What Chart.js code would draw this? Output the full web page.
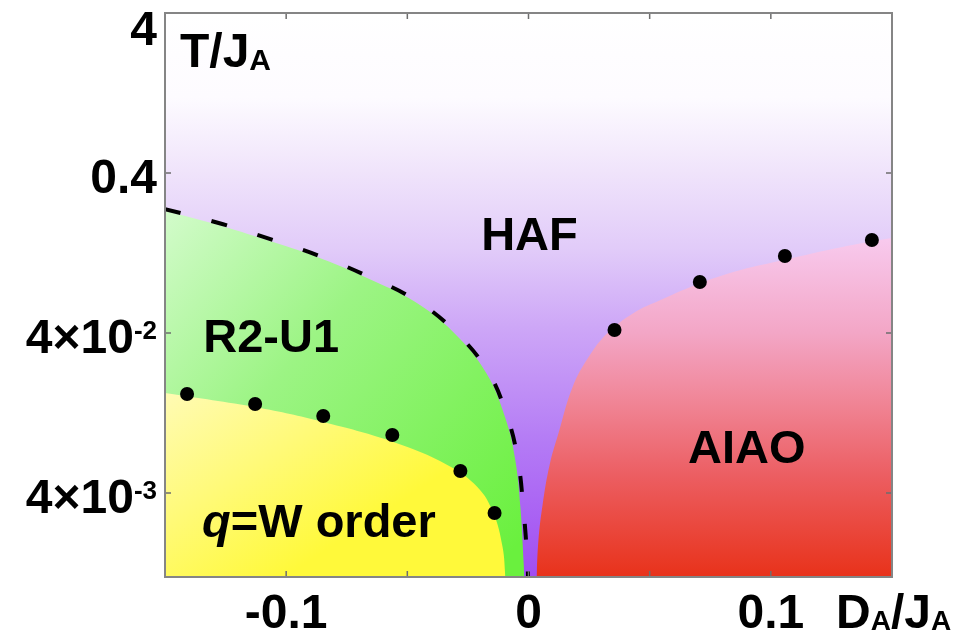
<!doctype html>
<html lang="en">
<head>
<meta charset="utf-8">
<title>Phase diagram T/JA vs DA/JA</title>
<style>
  * { margin: 0; padding: 0; }
  body { background: #fff; }
  #box { width: 961px; height: 637px; }
</style>
</head>
<body>
<div id="box"><canvas id="phase" width="961" height="637"></canvas></div>
<script src="https://cdn.jsdelivr.net/npm/chart.js/dist/chart.umd.min.js"></script>
<script>
// axes
const xMin = -0.15, xMax = 0.15;
const yMin = 1.194e-3, yMax = 4;
const xTickMarks = [-0.1, -0.05, 0, 0.05, 0.1];
const xTickValues = [-0.1, 0, 0.1];
const xTickLabels = ['-0.1', '0', '0.1'];
const yTickValues = [4e-3, 4e-2, 0.4, 4];
const yTickBase = ['4×10', '4×10', '0.4', '4'];
const yTickExp = ['-3', '-2', '', ''];

// dashed crossover HAF / R2-U1
const crossX = [-0.15, -0.1264, -0.1054, -0.0851, -0.0657, -0.0467, -0.0310, -0.0169, -0.0087, -0.0045, -0.0021, -0.0004, -0.0002];
const crossT = [0.238, 0.192, 0.1525, 0.1194, 0.0896, 0.0643, 0.0418, 0.0232, 0.0119, 0.0066, 0.0032, 0.00146, 0.001194];

// R2-U1 region edge
const greenX = [-0.15, -0.1264, -0.1054, -0.0851, -0.0657, -0.0467, -0.0310, -0.0175, -0.0095, -0.0055, -0.0033, -0.0020, -0.0018];
const greenT = [0.232, 0.186, 0.148, 0.116, 0.087, 0.0625, 0.0405, 0.0226, 0.0117, 0.0065, 0.0032, 0.00146, 0.001194];

// q=W order region edge
const yellowX = [-0.15, -0.1107, -0.0831, -0.0558, -0.0335, -0.0211, -0.0145, -0.0107, -0.0095];
const yellowT = [0.01687, 0.01359, 0.01095, 0.00833, 0.00599, 0.00436, 0.00300, 0.00184, 0.001194];

// AIAO region edge
const aiaoX = [0.0033, 0.0041, 0.0058, 0.0087, 0.0124, 0.0182, 0.0248, 0.0326, 0.0434, 0.0545, 0.0711, 0.0876, 0.1054, 0.1236, 0.1401, 0.15];
const aiaoT = [0.001194, 0.00203, 0.00337, 0.00599, 0.00949, 0.0184, 0.0283, 0.0400, 0.0534, 0.0643, 0.0821, 0.0990, 0.1143, 0.1320, 0.1482, 0.157];

// transition points
const qwDotX = [-0.1409, -0.1128, -0.0847, -0.0562, -0.0281, -0.0140];
const qwDotT = [0.01663, 0.01440, 0.01212, 0.00922, 0.00549, 0.00300];
const aiaoDotX = [0.0355, 0.0707, 0.1058, 0.1417];
const aiaoDotT = [0.0418, 0.0833, 0.1212, 0.1525];

const pts = (xs, ts) => xs.map((x, i) => ({ x: x, y: ts[i] }));
const FONT = '"Liberation Sans", Arial, Helvetica, sans-serif';

function gradFor(chart, kind) {
  const ca = chart.chartArea;
  const c = chart.ctx;
  if (!ca) return 'rgba(0,0,0,0)';
  let g;
  if (kind === 'haf') {
    g = c.createLinearGradient(0, ca.top, 0, ca.bottom);
    g.addColorStop(0, '#ffffff');
    g.addColorStop(0.15, '#fdfbff');
    g.addColorStop(0.28, '#f0e4fb');
    g.addColorStop(0.42, '#e1cbf9');
    g.addColorStop(0.56, '#cda6f7');
    g.addColorStop(0.76, '#b47bf5');
    g.addColorStop(1, '#a14df2');
  } else if (kind === 'green') {
    g = c.createLinearGradient(ca.left, ca.top + 200, ca.left + 360, ca.bottom - 40);
    g.addColorStop(0, '#d2fbca');
    g.addColorStop(0.4, '#9cf484');
    g.addColorStop(1, '#6af03e');
  } else if (kind === 'yellow') {
    g = c.createLinearGradient(ca.left, ca.top + 380, ca.left + 120, ca.bottom);
    g.addColorStop(0, '#fffbb4');
    g.addColorStop(0.5, '#fffa78');
    g.addColorStop(1, '#fff93a');
  } else {
    g = c.createLinearGradient(0, ca.top + 225, 0, ca.bottom);
    g.addColorStop(0, '#f8caee');
    g.addColorStop(0.28, '#f3a6c6');
    g.addColorStop(0.5, '#f08292');
    g.addColorStop(0.7, '#ec5e62');
    g.addColorStop(1, '#e8321a');
  }
  return g;
}

function region(data, kind, order) {
  return {
    data: data,
    order: order,
    fill: 'start',
    borderWidth: 0,
    borderColor: 'rgba(0,0,0,0)',
    pointRadius: 0,
    tension: 0.4,
    backgroundColor: (ctx) => gradFor(ctx.chart, kind)
  };
}

// text with super/subscripts; segs: [text, size, dy, italic]
function richText(c, x, y, segs, align) {
  let w = 0;
  segs.forEach(s => {
    c.font = (s[3] ? 'italic ' : '') + 'bold ' + s[1] + 'px ' + FONT;
    w += c.measureText(s[0]).width;
  });
  let cx = align === 'right' ? x - w : align === 'center' ? x - w / 2 : x;
  c.textAlign = 'left';
  c.textBaseline = 'alphabetic';
  c.fillStyle = '#000';
  segs.forEach(s => {
    c.font = (s[3] ? 'italic ' : '') + 'bold ' + s[1] + 'px ' + FONT;
    c.fillText(s[0], cx, y + s[2]);
    cx += c.measureText(s[0]).width;
  });
}

const framePlugin = {
  id: 'frame',
  beforeDatasetsDraw(chart) {
    const ca = chart.chartArea, c = chart.ctx;
    c.save();
    c.fillStyle = gradFor(chart, 'haf');
    c.fillRect(ca.left, ca.top, ca.right - ca.left, ca.bottom - ca.top);
    c.restore();
  },
  afterDatasetsDraw(chart) {
    const ca = chart.chartArea, c = chart.ctx;
    const xs = chart.scales.x, ys = chart.scales.y;
    c.save();
    c.strokeStyle = '#6e6e6e';
    c.lineWidth = 1.5;
    c.beginPath();
    xTickMarks.forEach(v => {
      const p = xs.getPixelForValue(v);
      c.moveTo(p, ca.bottom); c.lineTo(p, ca.bottom - 6);
      c.moveTo(p, ca.top); c.lineTo(p, ca.top + 6);
    });
    yTickValues.forEach(v => {
      const p = ys.getPixelForValue(v);
      c.moveTo(ca.left, p); c.lineTo(ca.left + 6, p);
      c.moveTo(ca.right, p); c.lineTo(ca.right - 6, p);
    });
    c.stroke();
    c.strokeStyle = '#858585';
    c.lineWidth = 2;
    c.strokeRect(ca.left, ca.top, ca.right - ca.left, ca.bottom - ca.top);
    c.restore();
  },
  afterDraw(chart) {
    const c = chart.ctx;
    const xs = chart.scales.x, ys = chart.scales.y;
    const ca = chart.chartArea;
    c.save();
    // y tick labels
    yTickValues.forEach((v, i) => {
      const p = ys.getPixelForValue(v);
      const base = Math.max(p + 20, 45);
      const segs = [[yTickBase[i], 48, 0]];
      if (yTickExp[i]) segs.push([yTickExp[i], 26, -14]);
      richText(c, ca.left - 8, base, segs, 'right');
    });
    // x tick labels
    xTickValues.forEach((v, i) => {
      richText(c, xs.getPixelForValue(v), ca.bottom + 51, [[xTickLabels[i], 48, 0]], 'center');
    });
    // axis titles
    richText(c, 836, ca.bottom + 51, [['D', 48, 0], ['A', 28, 2], ['/J', 48, 0], ['A', 28, 2]], 'left');
    richText(c, ca.left + 15, ca.top + 54, [['T/J', 48, 0], ['A', 30, 3]], 'left');
    // phase names
    richText(c, xs.getPixelForValue(0.0004), ys.getPixelForValue(0.1686) + 17, [['HAF', 47, 0]], 'center');
    richText(c, xs.getPixelForValue(-0.1062), ys.getPixelForValue(0.03832) + 16, [['R2-U1', 47, 0]], 'center');
    richText(c, xs.getPixelForValue(0.0901), ys.getPixelForValue(0.00787) + 17, [['AIAO', 47, 0]], 'center');
    richText(c, xs.getPixelForValue(-0.1347), ys.getPixelForValue(0.002752) + 18,
      [['q', 47, 0, true], ['=W order', 47, 0]], 'left');
    c.restore();
  }
};

const config = {
  type: 'line',
  data: {
    datasets: [
      {
        data: pts(qwDotX, qwDotT).concat(pts(aiaoDotX, aiaoDotT)),
        order: 1,
        showLine: false,
        pointRadius: 7,
        pointBackgroundColor: '#000',
        pointBorderWidth: 0
      },
      {
        data: pts(crossX, crossT),
        order: 2,
        fill: false,
        borderColor: '#000',
        borderWidth: 4,
        borderDash: [16, 32],
        pointRadius: 0,
        tension: 0.4
      },
      region(pts(aiaoX, aiaoT), 'red', 6),
      region(pts(yellowX, yellowT), 'yellow', 7),
      region(pts(greenX, greenT), 'green', 8)
    ]
  },
  options: {
    responsive: false,
    animation: false,
    layout: { padding: { top: 13, right: 69, left: 0, bottom: 0 } },
    plugins: { legend: { display: false }, tooltip: { enabled: false } },
    scales: {
      x: {
        type: 'linear', min: xMin, max: xMax,
        ticks: { display: false },
        grid: { display: false },
        border: { display: false },
        afterFit(scale) { scale.height = 60; }
      },
      y: {
        type: 'logarithmic', min: yMin, max: yMax,
        ticks: { display: false },
        grid: { display: false },
        border: { display: false },
        afterFit(scale) { scale.width = 165; }
      }
    }
  },
  plugins: [framePlugin]
};

const myChart = new Chart(document.getElementById('phase'), config);
</script>
</body>
</html>
